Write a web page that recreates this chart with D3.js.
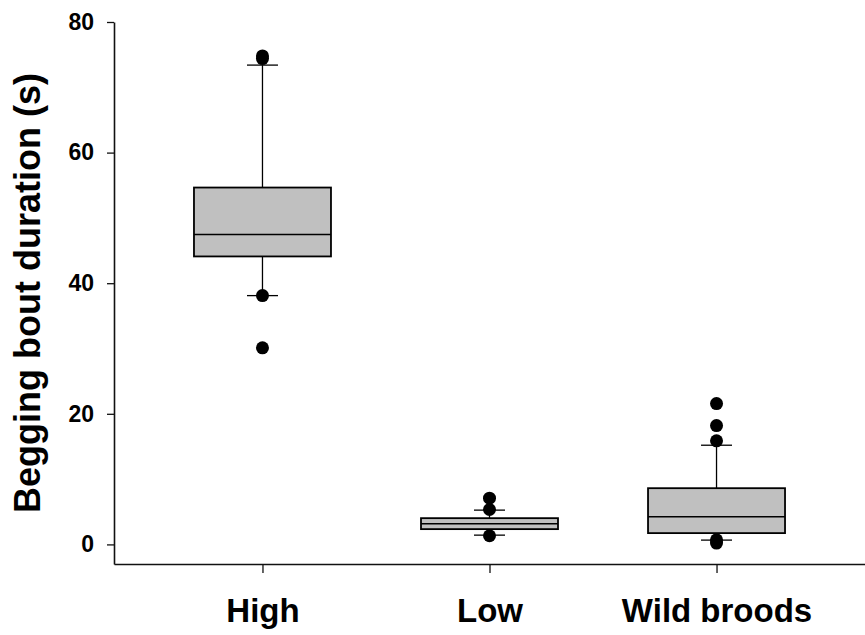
<!DOCTYPE html>
<meta charset="utf-8">
<script src="https://d3js.org/d3.v7.min.js"></script>
<style>
  body { margin: 0; background: white; }
  text { font-family: "Liberation Sans", Arial, sans-serif; font-weight: bold; }
</style>

<div id="my_dataviz"></div>

<script>
    // data
    var groups = ["High", "Low", "Wild broods"];
    var q1 = [44.1, 2.34, 1.73];
    var medians = [47.46, 3.17, 4.24];
    var q3 = [54.65, 4.02, 8.61];
    var whiskerLow = [38.1, 1.42, 0.66];
    var whiskerHigh = [73.4, 5.25, 15.19];
    var outliersHigh = [74.8, 74.4, 38.1, 30.1];
    var outliersLow = [7.08, 5.35, 1.33];
    var outliersWild = [21.57, 18.2, 15.86, 0.7, 0.2];
    var yTicks = [0, 20, 40, 60, 80];

    var outliers = [outliersHigh, outliersLow, outliersWild];

    var width = 865, height = 635;

    var svg = d3.select("#my_dataviz")
      .append("svg")
        .attr("width", width)
        .attr("height", height);

    // scales
    var x = d3.scalePoint()
      .domain(groups)
      .range([114, 865])
      .padding(0.654);

    var y = d3.scaleLinear()
      .domain([-3, 80])
      .range([564, 22]);

    var boxWidth = 137;
    var capWidth = 31;

    // y axis
    var yAxis = svg.append("g")
      .attr("transform", "translate(114,0)")
      .call(d3.axisLeft(y).tickValues(yTicks).tickSizeInner(7).tickSizeOuter(0).tickPadding(13));
    yAxis.select(".domain").attr("stroke", "#111").attr("stroke-width", 1.6);
    yAxis.selectAll(".tick line").attr("stroke", "#111").attr("stroke-width", 1.3);
    yAxis.selectAll(".tick text")
      .style("font-size", "23px")
      .style("font-family", "'Liberation Sans', Arial, sans-serif")
      .style("font-weight", "bold")
      .attr("fill", "black");

    // x axis
    var xAxis = svg.append("g")
      .attr("transform", "translate(0,564)")
      .call(d3.axisBottom(x).tickSizeInner(9).tickSizeOuter(0).tickPadding(26));
    xAxis.select(".domain").attr("stroke", "#111").attr("stroke-width", 1.6);
    xAxis.selectAll(".tick line").attr("stroke", "#111").attr("stroke-width", 1.3);
    xAxis.selectAll(".tick text")
      .style("font-size", "33px")
      .style("font-family", "'Liberation Sans', Arial, sans-serif")
      .style("font-weight", "bold")
      .attr("fill", "black");

    // y axis title
    svg.append("text")
      .attr("transform", "translate(40," + (y(-3) + y(80)) / 2 + ") rotate(-90)")
      .attr("text-anchor", "middle")
      .style("font-size", "36px")
      .attr("fill", "black")
      .text("Begging bout duration (s)");

    var boxes = svg.append("g")
      .selectAll("g")
      .data(groups)
      .enter()
      .append("g");

    // whiskers
    boxes.append("line")
      .attr("x1", function(d) { return x(d) })
      .attr("x2", function(d) { return x(d) })
      .attr("y1", function(d, i) { return y(whiskerHigh[i]) })
      .attr("y2", function(d, i) { return y(q3[i]) })
      .attr("stroke", "black").attr("stroke-width", 1.3);
    boxes.append("line")
      .attr("x1", function(d) { return x(d) })
      .attr("x2", function(d) { return x(d) })
      .attr("y1", function(d, i) { return y(q1[i]) })
      .attr("y2", function(d, i) { return y(whiskerLow[i]) })
      .attr("stroke", "black").attr("stroke-width", 1.3);

    // caps
    boxes.append("line")
      .attr("x1", function(d) { return x(d) - capWidth / 2 })
      .attr("x2", function(d) { return x(d) + capWidth / 2 })
      .attr("y1", function(d, i) { return y(whiskerHigh[i]) })
      .attr("y2", function(d, i) { return y(whiskerHigh[i]) })
      .attr("stroke", "black").attr("stroke-width", 1.3);
    boxes.append("line")
      .attr("x1", function(d) { return x(d) - capWidth / 2 })
      .attr("x2", function(d) { return x(d) + capWidth / 2 })
      .attr("y1", function(d, i) { return y(whiskerLow[i]) })
      .attr("y2", function(d, i) { return y(whiskerLow[i]) })
      .attr("stroke", "black").attr("stroke-width", 1.3);

    // the boxes
    boxes.append("rect")
      .attr("x", function(d) { return x(d) - boxWidth / 2 })
      .attr("y", function(d, i) { return y(q3[i]) })
      .attr("width", boxWidth)
      .attr("height", function(d, i) { return y(q1[i]) - y(q3[i]) })
      .attr("fill", "#c0c0c0")
      .attr("stroke", "black")
      .attr("stroke-width", 1.8);

    // medians
    boxes.append("line")
      .attr("x1", function(d) { return x(d) - boxWidth / 2 })
      .attr("x2", function(d) { return x(d) + boxWidth / 2 })
      .attr("y1", function(d, i) { return y(medians[i]) })
      .attr("y2", function(d, i) { return y(medians[i]) })
      .attr("stroke", "black").attr("stroke-width", 1.4);

    // outlier points
    boxes.each(function(d, i) {
      d3.select(this).selectAll("circle")
        .data(outliers[i])
        .enter()
        .append("circle")
          .attr("cx", x(d))
          .attr("cy", function(v) { return y(v) })
          .attr("r", 6.5)
          .attr("fill", "black");
    });
</script>
